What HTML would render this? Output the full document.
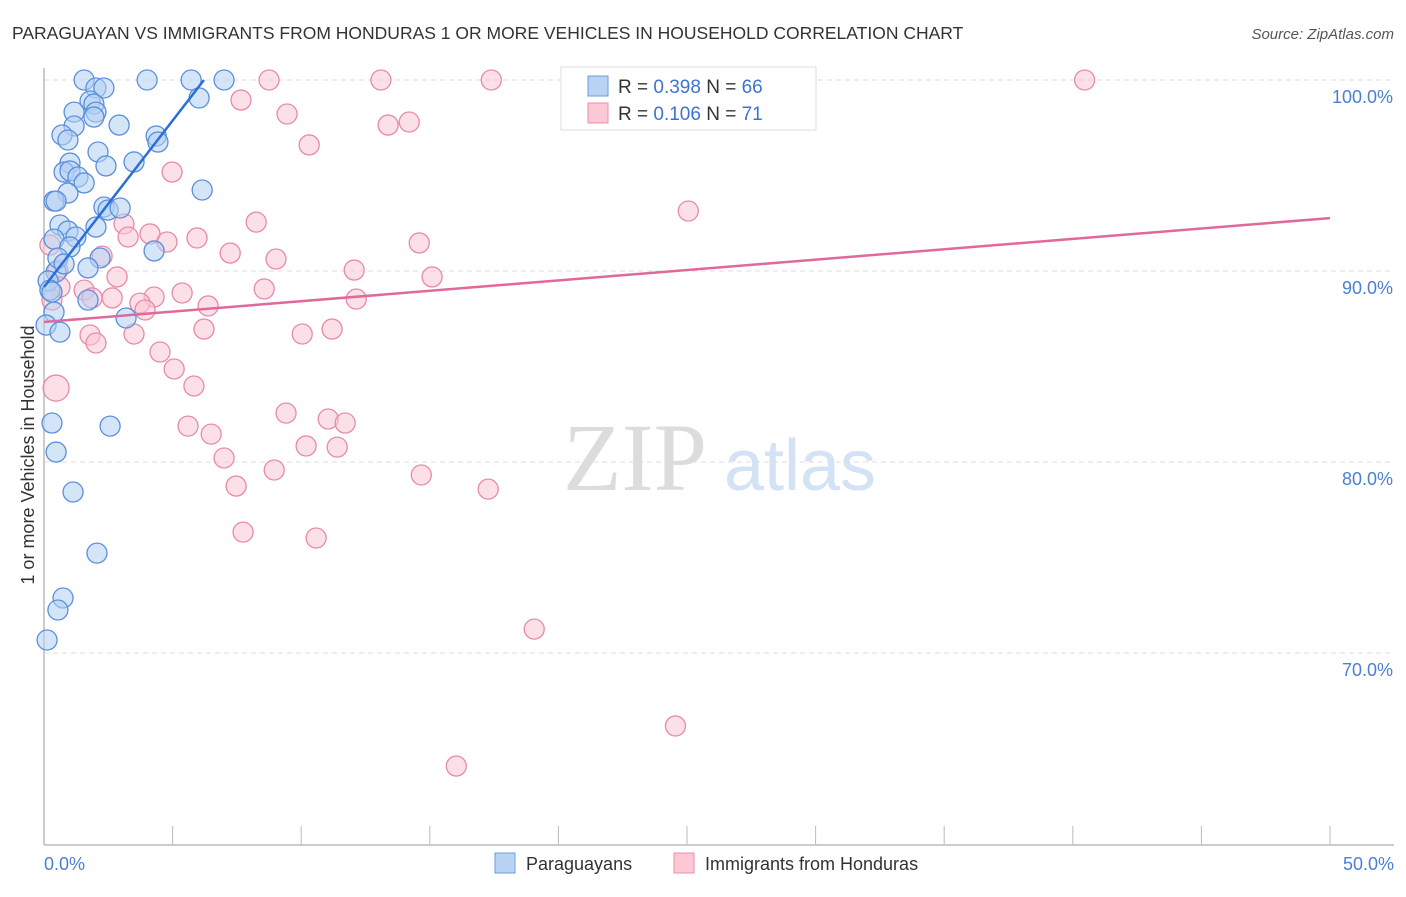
<!DOCTYPE html>
<html><head><meta charset="utf-8"><style>
body{margin:0;background:#fff;font-family:"Liberation Sans",sans-serif}
</style></head><body>
<svg width="1406" height="892" xmlns="http://www.w3.org/2000/svg" font-family="Liberation Sans, sans-serif">
<text x="12" y="39" font-size="17.5" fill="#333">PARAGUAYAN VS IMMIGRANTS FROM HONDURAS 1 OR MORE VEHICLES IN HOUSEHOLD CORRELATION CHART</text>
<text x="1394" y="39" font-size="15" fill="#555" font-style="italic" text-anchor="end">Source: ZipAtlas.com</text>
<g>
<text x="635" y="490" font-size="96" fill="#dcdcdc" font-family="Liberation Serif, serif" text-anchor="middle">ZIP</text>
<text x="800" y="490" font-size="72" fill="#d4e2f5" text-anchor="middle">atlas</text>
</g>
<g id="grid"></g>
<g id="axes"></g>
<g id="pts"></g>
<g id="lines"></g>
<text transform="translate(34,455) rotate(-90)" font-size="18" fill="#333" text-anchor="middle">1 or more Vehicles in Household</text>
<g>
<rect x="561" y="67" width="255" height="63" fill="#fff" stroke="#ddd"/>
<rect x="588" y="76" width="20" height="20" fill="#b9d3f5" stroke="#6a9be0"/>
<rect x="588" y="103" width="20" height="20" fill="#fcc8d6" stroke="#e78fab"/>
<text x="618" y="93" font-size="19" fill="#333">R = <tspan fill="#3b74d0">0.398</tspan>   N = <tspan fill="#3b74d0">66</tspan></text>
<text x="618" y="120" font-size="19" fill="#333">R = <tspan fill="#3b74d0">0.106</tspan>   N = <tspan fill="#3b74d0"> 71</tspan></text>
</g>
<g>
<rect x="495" y="853" width="20" height="20" fill="#b9d3f5" stroke="#6a9be0"/>
<text x="526" y="870" font-size="18" fill="#333">Paraguayans</text>
<rect x="674" y="853" width="20" height="20" fill="#fcc8d6" stroke="#e78fab"/>
<text x="705" y="870" font-size="18" fill="#333">Immigrants from Honduras</text>
</g>
</svg>
<script>
const yTicks=[100,90,80,70];
const yTickLabels=["100.0%","90.0%","80.0%","70.0%"];
const xTicks=[0,5,10,15,20,25,30,35,40,45,50];
const xEndLabels=["0.0%","50.0%"];
const blueX=[1.56,4.01,5.72,7.0,2.02,2.33,1.79,6.03,1.94,1.17,2.02,1.94,2.92,1.17,0.7,4.36,0.93,4.43,2.1,1.01,3.5,2.41,0.78,1.01,1.32,1.56,6.15,0.93,0.39,0.47,2.33,2.49,0.62,2.02,0.93,1.24,0.39,1.01,4.28,2.18,1.71,0.47,0.16,0.23,0.31,1.71,0.39,3.19,0.08,0.62,0.31,2.57,0.47,1.13,2.06,0.74,0.54,0.12,2.96,0.54,0.78];
const blueY=[100,100,100,100,99.58,99.58,98.9,99.06,98.74,98.32,98.32,98.06,97.64,97.59,97.12,97.07,96.86,96.75,96.23,95.65,95.71,95.5,95.18,95.24,94.92,94.61,94.24,94.08,93.66,93.66,93.35,93.19,92.41,92.3,92.09,91.78,91.67,91.26,91.05,90.68,90.16,89.95,89.48,89.0,88.9,88.48,87.85,87.54,87.17,86.8,82.04,81.88,80.52,78.43,75.23,72.88,72.25,70.68,93.3,90.68,90.37];
const pinkX=[8.75,13.1,17.39,23.77,28.16,40.46,7.66,9.45,13.38,14.2,10.31,4.98,25.05,8.25,3.11,4.12,3.27,4.78,5.95,7.24,9.02,14.59,2.26,0.54,12.06,15.09,2.84,0.62,1.56,5.37,4.28,8.56,2.65,3.73,6.38,3.93,12.14,1.87,0.31,6.22,10.04,11.2,1.79,3.5,2.02,4.51,5.06,5.83,9.41,11.05,11.71,5.6,6.5,10.19,11.4,7.0,7.47,8.95,14.67,17.27,7.74,10.58,19.06,24.55,16.03,0.23];
const pinkY=[100,100,100,100,100,100,98.95,98.22,97.64,97.8,96.6,95.18,93.14,92.56,92.46,91.94,91.78,91.52,91.73,90.94,90.63,91.47,90.78,90.05,90.05,89.69,89.69,89.16,89.0,88.85,88.64,89.06,88.59,88.32,88.17,87.96,88.53,88.59,88.48,86.96,86.7,86.96,86.65,86.7,86.23,85.76,84.87,83.98,82.56,82.25,82.04,81.88,81.46,80.84,80.78,80.21,78.74,79.58,79.32,78.58,76.33,76.02,71.25,66.18,64.08,91.36];
const bigPinkX=[0.47], bigPinkY=[83.87];
const blueLineX=[0,6.22], blueLineY=[89.16,100];
const pinkLineX=[0,50], pinkLineY=[87.33,92.77];
const NS="http://www.w3.org/2000/svg";
const sx=v=>44+v/50*1286, sy=v=>80+(100-v)*19.1;
function mk(t,a,p){const e=document.createElementNS(NS,t);for(const k in a)e.setAttribute(k,a[k]);p.appendChild(e);return e;}
const grid=document.getElementById('grid'),axes=document.getElementById('axes'),pts=document.getElementById('pts'),lines=document.getElementById('lines');
yTicks.forEach((t,i)=>{
 const l=mk('line',{x1:44,x2:1394,y1:sy(t),y2:sy(t),stroke:'#ddd','stroke-dasharray':'5,4'},grid);
 
 
 const tx=mk('text',{x:1393,y:sy(t)+23,'font-size':18,fill:'#4a7fd4','text-anchor':'end'},axes);
 tx.textContent=yTickLabels[i];
 
 
});
const ya=mk('line',{x1:44,x2:44,y1:68,y2:845,stroke:'#bbb','stroke-width':1.5},axes);


const xa=mk('line',{x1:44,x2:1394,y1:845,y2:845,stroke:'#bbb','stroke-width':1.5},axes);


xTicks.forEach(t=>{
 const l=mk('line',{x1:sx(t),x2:sx(t),y1:826,y2:845,stroke:'#bbb'},axes);
 
 
});
[[0,'start',44],[50,'end',1394]].forEach((d,i)=>{
 const tx=mk('text',{x:d[2],y:870,'font-size':18,fill:'#4a7fd4','text-anchor':d[1]},axes);
 tx.textContent=xEndLabels[i];
 
 
});
function dots(X,Y,fill,stroke,r,name){X.forEach((x,i)=>{
 const c=mk('circle',{cx:sx(x),cy:sy(Y[i]),r:r,fill:fill,'fill-opacity':0.55,stroke:stroke,'stroke-width':1.3},pts);
 
 
});}
dots(pinkX,pinkY,'#f9c6d4','#e88aa8',10,'honduras-point');
dots(bigPinkX,bigPinkY,'#f9c6d4','#e88aa8',13,'honduras-point');
dots(blueX,blueY,'#b3cff3','#5b8fdc',10,'paraguayan-point');
const bl=mk('line',{x1:sx(blueLineX[0]),y1:sy(blueLineY[0]),x2:sx(blueLineX[1]),y2:sy(blueLineY[1]),stroke:'#2a6fd6','stroke-width':2.5},lines);


const pl=mk('line',{x1:sx(pinkLineX[0]),y1:sy(pinkLineY[0]),x2:sx(pinkLineX[1]),y2:sy(pinkLineY[1]),stroke:'#e0689a','stroke-width':2.5},lines);


</script>
</body></html>
